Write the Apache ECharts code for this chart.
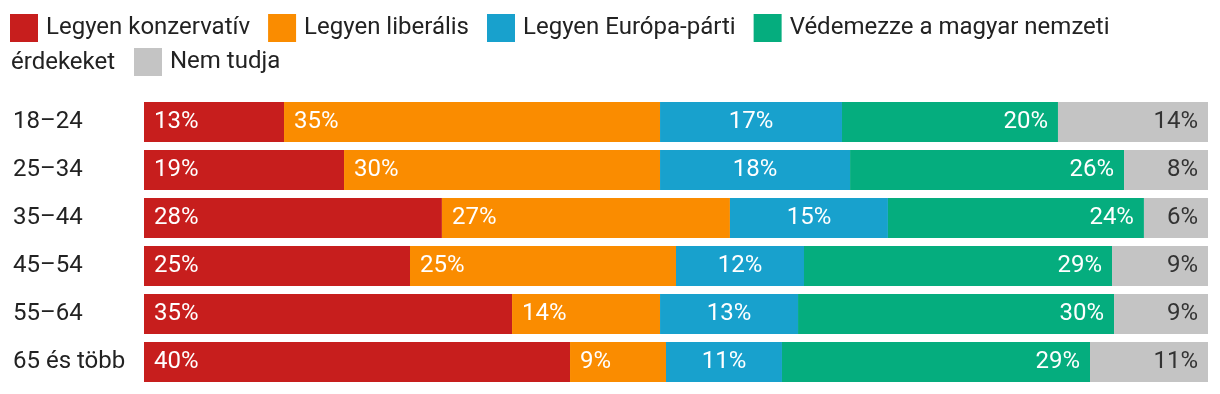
<!DOCTYPE html>
<html>
<head>
<meta charset="utf-8">
<script src="https://cdn.jsdelivr.net/npm/echarts@6/dist/echarts.min.js"></script>
<style>
html,body{margin:0;padding:0;background:#fff;}
#chart{width:1220px;height:394px;}
</style>
</head>
<body>
<div id="chart"></div>
<script>
const categories = ['18–24', '25–34', '35–44', '45–54', '55–64', '65 és több'];
const seriesNames = ['Legyen konzervatív', 'Legyen liberális', 'Legyen Európa-párti', 'Védemezze a magyar nemzeti érdekeket', 'Nem tudja'];
const konzervativ = [13.16, 18.8, 28.0, 25.0, 34.59, 40.04];
const liberalis = [35.34, 29.7, 27.07, 25.0, 13.91, 9.02];
const europaParti = [17.1, 17.86, 14.85, 12.03, 12.97, 10.9];
const nemzeti = [20.3, 25.75, 24.06, 28.95, 29.7, 28.95];
const nemTudja = [14.1, 7.89, 6.02, 9.02, 8.83, 11.09];

const colors = ['#c71e1d', '#fa8c00', '#18a1cd', '#05ad7e', '#c4c4c4'];
const FONT = 'Roboto';
const FS = 24;
const values = [konzervativ, liberalis, europaParti, nemzeti, nemTudja];
const labelPos = ['insideLeft', 'insideLeft', 'inside', 'insideRight', 'insideRight'];
const labelColor = ['#fff', '#fff', '#fff', '#fff', '#333'];

const chart = echarts.init(document.getElementById('chart'), null, {renderer: 'canvas'});

const series = seriesNames.map((name, i) => ({
  name: name,
  type: 'bar',
  stack: 'total',
  barWidth: 40,
  data: values[i],
  itemStyle: {color: colors[i]},
  emphasis: {disabled: true},
  label: {
    show: true,
    position: labelPos[i],
    distance: 10,
    color: labelColor[i],
    fontFamily: FONT,
    fontSize: FS,
    formatter: p => Math.round(p.value) + '%'
  }
}));

const legendText = {fontFamily: FONT, fontSize: FS, color: '#222', padding: [0, 0, 0, 3]};

chart.setOption({
  animation: false,
  color: colors,
  legend: [
    {
      data: seriesNames.slice(0, 4),
      left: 10,
      top: 14,
      padding: 0,
      itemWidth: 28,
      itemHeight: 28,
      itemGap: 18,
      icon: 'rect',
      selectedMode: false,
      textStyle: legendText,
      formatter: n => n === seriesNames[3] ? 'Védemezze a magyar nemzeti' : n
    },
    {
      data: [seriesNames[4]],
      left: 134,
      top: 48,
      padding: 0,
      itemWidth: 28,
      itemHeight: 28,
      icon: 'rect',
      selectedMode: false,
      textStyle: legendText
    }
  ],
  graphic: [{
    type: 'text',
    left: 11,
    top: 51,
    style: {text: 'érdekeket', fontFamily: FONT, fontSize: FS, fill: '#222'}
  }],
  grid: {left: 144, right: 12, top: 98, bottom: 8, containLabel: false},
  xAxis: {
    type: 'value',
    min: 0,
    max: 100,
    show: false
  },
  yAxis: {
    type: 'category',
    data: categories,
    inverse: true,
    axisLine: {show: false},
    axisTick: {show: false},
    axisLabel: {
      align: 'left',
      margin: 131,
      fontFamily: FONT,
      fontSize: FS,
      color: '#222'
    }
  },
  series: series
});
</script>
</body>
</html>
